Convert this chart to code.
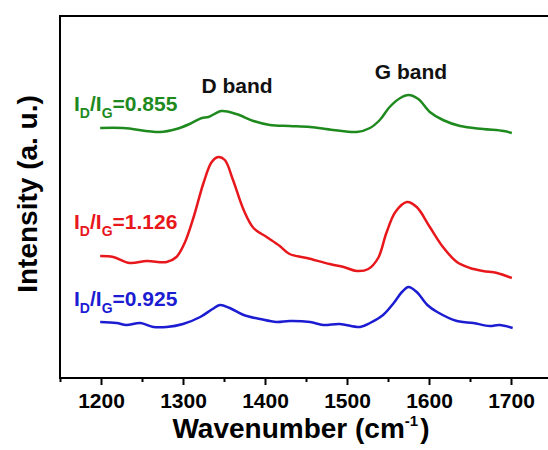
<!DOCTYPE html>
<html>
<head>
<meta charset="utf-8">
<script src="https://cdn.jsdelivr.net/npm/d3@7"></script>
<style>
  body { margin: 0; background: #fff; }
  svg { display: block; font-family: 'Liberation Sans', Arial, sans-serif; font-weight: bold; }
</style>
</head>
<body>
<svg id="chart"></svg>
<script>
// Raman spectra (intensity in arbitrary units, curves already offset)
const greenWave = [1199, 1227, 1272, 1292, 1308, 1323, 1331, 1347, 1365, 1386, 1406, 1430, 1455, 1483, 1512, 1528, 1540, 1552, 1565, 1575, 1587, 1601, 1617, 1638, 1666, 1691, 1701];
const greenInt = [250, 250, 246, 249, 254, 260, 261, 267, 264, 257, 253, 252, 251, 248, 246, 250, 258, 271, 280, 283, 279, 266, 258, 252, 249, 247, 245];

const redWave = [1199, 1215, 1235, 1256, 1280, 1292, 1302, 1313, 1325, 1335, 1343, 1351, 1361, 1374, 1386, 1402, 1418, 1430, 1451, 1479, 1496, 1512, 1526, 1538, 1548, 1559, 1573, 1585, 1601, 1617, 1634, 1650, 1666, 1683, 1701];
const redInt = [122, 121, 115, 117, 116, 121, 135, 161, 195, 216, 221, 218, 198, 168, 150, 141, 132, 124, 120, 114, 111, 107, 109, 120, 145, 166, 176, 171, 151, 131, 116, 110, 107, 105, 100];

const blueWave = [1199, 1219, 1231, 1248, 1264, 1280, 1300, 1321, 1336, 1345, 1357, 1374, 1394, 1414, 1430, 1455, 1471, 1491, 1516, 1528, 1544, 1557, 1567, 1575, 1585, 1598, 1610, 1634, 1654, 1674, 1686, 1702];
const blueInt = [56, 55, 53, 55, 51, 51, 54, 61, 69, 73, 70, 63, 59, 56, 57, 56, 53, 54, 51, 55, 63, 75, 86, 91, 86, 73, 66, 57, 55, 52, 53, 50];

const ratioLabels = ['0.855', '1.126', '0.925'];
const ratioLabelInt = [267, 149, 72];
const bandNames = ['D band', 'G band'];
const bandWave = [1366, 1578];
const bandInt = [285, 299];

const majorTicks = [1200, 1300, 1400, 1500, 1600, 1700];
const minorTicks = [1150, 1250, 1350, 1450, 1550, 1650, 1750];

const series = [
  { wave: greenWave, int: greenInt, color: '#1e8a1e', label: ratioLabels[0], labelY: ratioLabelInt[0] },
  { wave: redWave, int: redInt, color: '#e8171c', label: ratioLabels[1], labelY: ratioLabelInt[1] },
  { wave: blueWave, int: blueInt, color: '#1c1cd2', label: ratioLabels[2], labelY: ratioLabelInt[2] }
];

const margin = { top: 16, left: 60 },
  width = 492,
  height = 362;

const xScale = d3
  .scaleLinear()
  .domain([1150, 1750])
  .range([0, width]);

const yScale = d3
  .scaleLinear()
  .domain([0, 362])
  .range([height, 0]);

const svg = d3
  .select('#chart')
  .attr('width', 548)
  .attr('height', 450)
  .append('g')
  .attr('transform', 'translate(' + margin.left + ',' + margin.top + ')');

// frame
svg
  .append('rect')
  .attr('x', 0)
  .attr('y', 0)
  .attr('width', width)
  .attr('height', height)
  .attr('fill', 'none')
  .attr('stroke', '#000')
  .attr('stroke-width', 2);

// minor ticks
svg
  .append('g')
  .attr('class', 'x-minor')
  .attr('transform', 'translate(0,' + height + ')')
  .call(
    d3
      .axisBottom(xScale)
      .tickValues(minorTicks)
      .tickSize(4)
      .tickFormat('')
  );

// major ticks + labels
svg
  .append('g')
  .attr('class', 'x-axis')
  .attr('transform', 'translate(0,' + height + ')')
  .call(
    d3
      .axisBottom(xScale)
      .tickValues(majorTicks)
      .tickSize(7)
      .tickPadding(8)
      .tickFormat(d3.format('d'))
  );

svg.selectAll('.x-axis path, .x-minor path').remove();
svg.selectAll('.x-axis line, .x-minor line').attr('stroke', '#000').attr('stroke-width', 2);
svg
  .selectAll('.x-axis text')
  .attr('fill', '#000')
  .style('font-size', '21px')
  .style('font-family', "'Liberation Sans', Arial, sans-serif")
  .style('font-weight', 'bold');

const line = d3
  .line()
  .x(d => xScale(d[0]))
  .y(d => yScale(d[1]))
  .curve(d3.curveCatmullRom.alpha(0.5));

series.forEach(s => {
  svg
    .append('path')
    .datum(s.wave.map((w, i) => [w, s.int[i]]))
    .attr('d', line)
    .attr('fill', 'none')
    .attr('stroke', s.color)
    .attr('stroke-width', 2.5);

  const t = svg
    .append('text')
    .attr('x', 14)
    .attr('y', yScale(s.labelY))
    .attr('fill', s.color)
    .style('font-size', '21px');
  t.append('tspan').text('I');
  t.append('tspan').attr('dy', 7).style('font-size', '14px').text('D');
  t.append('tspan').attr('dy', -7).text('/I');
  t.append('tspan').attr('dy', 7).style('font-size', '14px').text('G');
  t.append('tspan').attr('dy', -7).text('=' + s.label);
});

svg
  .selectAll('.band')
  .data(bandNames)
  .enter()
  .append('text')
  .attr('class', 'band')
  .attr('x', (d, i) => xScale(bandWave[i]))
  .attr('y', (d, i) => yScale(bandInt[i]))
  .attr('text-anchor', 'middle')
  .attr('fill', '#111')
  .style('font-size', '21px')
  .text(d => d);

// axis titles
const xt = svg
  .append('text')
  .attr('x', 241)
  .attr('y', 422)
  .attr('text-anchor', 'middle')
  .style('font-size', '28px');
xt.append('tspan').text('Wavenumber (cm');
xt.append('tspan').attr('dy', -12).style('font-size', '15px').text('-1');
xt.append('tspan').attr('dy', 12).attr('dx', 2).text(')');

svg
  .append('text')
  .attr('transform', 'translate(-23,' + 178 + ') rotate(-90)')
  .attr('text-anchor', 'middle')
  .style('font-size', '28px')
  .text('Intensity (a. u.)');
</script>
</body>
</html>
